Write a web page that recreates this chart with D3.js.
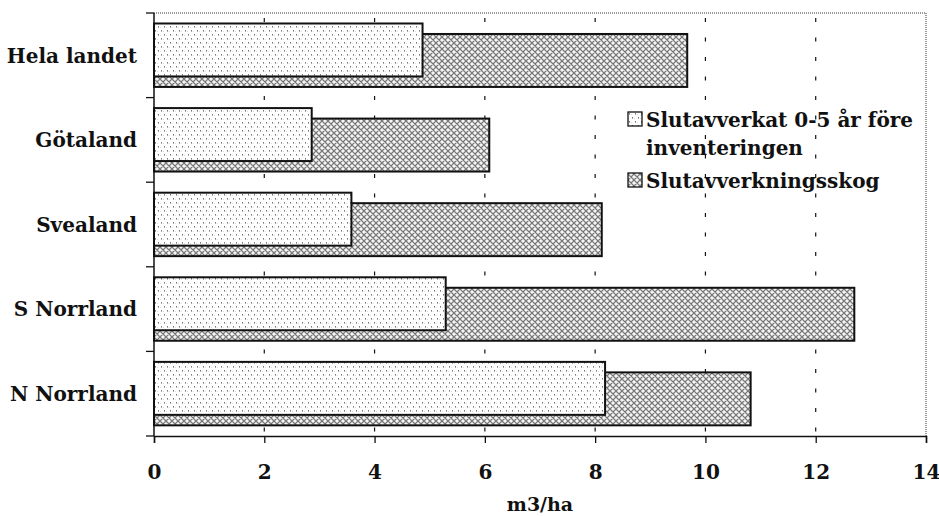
<!DOCTYPE html>
<html>
<head>
<meta charset="utf-8">
<script src="https://cdn.jsdelivr.net/npm/d3@7"></script>
<style>
  html, body { margin: 0; padding: 0; background: #fff; }
  svg { display: block; }
  text { font-family: "DejaVu Serif", "Liberation Serif", serif; font-weight: bold; fill: #111; }
</style>
</head>
<body>
<svg id="chart" width="939" height="516"></svg>
<script>
// Regions, top to bottom
const categories = ["Hela landet", "Götaland", "Svealand", "S Norrland", "N Norrland"];
// Volume (m3/ha), felled 0-5 years before the inventory
const felledValues = [4.87, 2.86, 3.58, 5.29, 8.18];
// Volume (m3/ha), mature forest ready for final felling
const matureValues = [9.67, 6.08, 8.12, 12.70, 10.82];
const seriesNames = ["Slutavverkat 0-5 år före inventeringen", "Slutavverkningsskog"];
const xTicks = [0, 2, 4, 6, 8, 10, 12, 14];
const xTitle = "m3/ha";

const svg = d3.select("#chart");
const margin = { top: 13, right: 13, bottom: 80, left: 154 };
const W = 939, H = 516;
const plotW = W - margin.left - margin.right;
const plotH = H - margin.top - margin.bottom;

// Fill patterns: light stipple and grey cross-hatch
const defs = svg.append("defs");
const dots = defs.append("pattern").attr("id", "dots")
  .attr("patternUnits", "userSpaceOnUse").attr("width", 6).attr("height", 8);
dots.append("rect").attr("width", 6).attr("height", 8).attr("fill", "#fff");
[[1, 1, "#777"], [1, 2, "#aaa"], [4, 5, "#777"], [4, 6, "#aaa"], [3, 2, "#ddd"], [0, 6, "#ddd"]]
  .forEach(([x, y, c]) => dots.append("rect").attr("x", x).attr("y", y)
    .attr("width", 1).attr("height", 1).attr("fill", c));

const hatch = defs.append("pattern").attr("id", "hatch")
  .attr("patternUnits", "userSpaceOnUse").attr("width", 6).attr("height", 6);
hatch.append("rect").attr("width", 6).attr("height", 6).attr("fill", "#e2e2e2");
hatch.append("path").attr("d", "M0,0L6,6M6,0L0,6M-1,5L1,7M5,-1L7,1")
  .attr("stroke", "#747474").attr("stroke-width", 1.1);
hatch.append("circle").attr("cx", 3).attr("cy", 0).attr("r", 0.9).attr("fill", "#fff");
hatch.append("circle").attr("cx", 0).attr("cy", 3).attr("r", 0.9).attr("fill", "#fff");
hatch.append("circle").attr("cx", 6).attr("cy", 3).attr("r", 0.9).attr("fill", "#fff");
hatch.append("circle").attr("cx", 3).attr("cy", 6).attr("r", 0.9).attr("fill", "#fff");

const g = svg.append("g").attr("transform", `translate(${margin.left},${margin.top})`);

const x = d3.scaleLinear().domain([0, 14]).range([0, plotW]);
const y = d3.scaleBand().domain(categories).range([0, plotH]).padding(0);
const bw = y.bandwidth();

// Plot frame (top and right edges are light dotted)
g.append("line").attr("x1", 0).attr("x2", plotW).attr("y1", 0).attr("y2", 0)
  .attr("stroke", "#777").attr("stroke-width", 1.5).attr("stroke-dasharray", "1,1");
g.append("line").attr("x1", plotW).attr("x2", plotW).attr("y1", 0).attr("y2", plotH)
  .attr("stroke", "#777").attr("stroke-width", 1.5).attr("stroke-dasharray", "1,1");

// Dashed vertical gridlines
g.append("g").selectAll("line").data(xTicks.filter(t => t > 0 && t < 14)).join("line")
  .attr("x1", d => x(d)).attr("x2", d => x(d))
  .attr("y1", 0).attr("y2", plotH)
  .attr("stroke", "#111").attr("stroke-width", 1.2).attr("stroke-dasharray", "4,15.5")
  .attr("stroke-dashoffset", -5);

// Mature-forest bars sit behind, shifted down in each band
g.append("g").selectAll("rect").data(categories).join("rect")
  .attr("x", 0)
  .attr("y", (d) => y(d) + bw * 0.248)
  .attr("width", (d, i) => x(matureValues[i]))
  .attr("height", bw * 0.626)
  .attr("fill", "url(#hatch)").attr("stroke", "#111").attr("stroke-width", 2);

// Recently felled bars in front
g.append("g").selectAll("rect").data(categories).join("rect")
  .attr("x", 0)
  .attr("y", (d) => y(d) + bw * 0.124)
  .attr("width", (d, i) => x(felledValues[i]))
  .attr("height", bw * 0.626)
  .attr("fill", "url(#dots)").attr("stroke", "#111").attr("stroke-width", 2);

// X axis
const xAxis = g.append("g").attr("transform", `translate(0,${plotH})`)
  .call(d3.axisBottom(x).tickValues(xTicks).tickSize(7).tickPadding(22).tickFormat(d3.format("d")));
xAxis.select(".domain").attr("stroke", "#111").attr("stroke-width", 1.5);
xAxis.selectAll(".tick line").attr("stroke", "#111").attr("stroke-width", 1.3);
xAxis.selectAll("text").attr("font-size", 20).attr("font-family", "DejaVu Serif").attr("font-weight", "bold").attr("fill", "#111");

// Y axis: ticks at band boundaries, labels centred in bands
const yAxisG = g.append("g");
yAxisG.append("line").attr("x1", 0).attr("x2", 0).attr("y1", 0).attr("y2", plotH)
  .attr("stroke", "#111").attr("stroke-width", 1.5);
const bounds = categories.map(c => y(c)).concat([plotH]);
yAxisG.selectAll("line.tk").data(bounds).join("line").attr("class", "tk")
  .attr("x1", -8).attr("x2", 0).attr("y1", d => d).attr("y2", d => d)
  .attr("stroke", "#111").attr("stroke-width", 1.3);
yAxisG.selectAll("text").data(categories).join("text")
  .attr("x", -17).attr("y", d => y(d) + bw / 2).attr("dy", "0.36em")
  .attr("text-anchor", "end").attr("font-size", 20).text(d => d);

// Axis title
svg.append("text").attr("x", margin.left + x(7)).attr("y", 511)
  .attr("text-anchor", "middle").attr("font-size", 19).text(xTitle);

// Legend
const legend = svg.append("g").attr("transform", "translate(628,0)");
const legendRows = [
  { fill: "url(#dots)", lines: ["Slutavverkat 0-5 år före", "inventeringen"], y: 127 },
  { fill: "url(#hatch)", lines: [seriesNames[1]], y: 188 }
];
legendRows.forEach(r => {
  legend.append("rect").attr("x", 0).attr("y", r.y - 15).attr("width", 14).attr("height", 14)
    .attr("fill", r.fill).attr("stroke", "#111").attr("stroke-width", 1.3);
  r.lines.forEach((t, j) => legend.append("text").attr("x", 18).attr("y", r.y + j * 28)
    .attr("font-size", 20).text(t));
});
</script>
</body>
</html>
